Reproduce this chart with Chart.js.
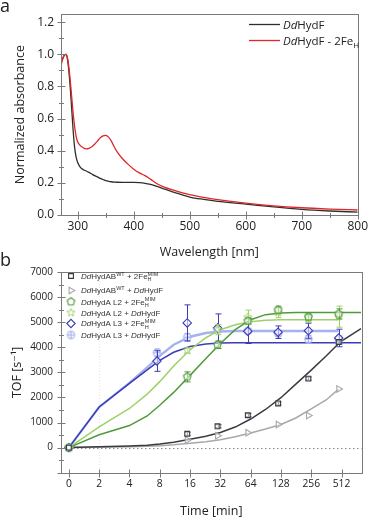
<!DOCTYPE html>
<html><head><meta charset="utf-8">
<script src="https://cdn.jsdelivr.net/npm/chart.js@4/dist/chart.umd.min.js"></script>
<style>
html,body{margin:0;padding:0;background:#fff;width:372px;height:520px;overflow:hidden}
#ca{position:absolute;left:0;top:0}
#cb{position:absolute;left:0;top:250px}
</style></head><body>
<canvas id="ca" width="372" height="262"></canvas>
<canvas id="cb" width="372" height="270"></canvas>
<script>
// ---------- Panel a data ----------
const wavelength = [270,273,276,279,282,285,288,291,294,297,300,305,310,315,320,325,330,335,340,345,350,355,360,365,370,380,390,400,410,420,430,440,450,475,500,525,550,600,650,700,750,800];
const absHydF    = [0.945,0.975,0.995,1.0,0.96,0.86,0.72,0.56,0.43,0.36,0.325,0.295,0.282,0.274,0.265,0.255,0.245,0.237,0.228,0.221,0.214,0.21,0.207,0.205,0.204,0.203,0.203,0.203,0.201,0.197,0.19,0.18,0.168,0.138,0.112,0.097,0.085,0.068,0.05,0.035,0.025,0.018];
const absHydF2Fe = [0.93,0.97,0.995,1.0,0.97,0.89,0.78,0.66,0.56,0.49,0.455,0.43,0.418,0.412,0.415,0.425,0.44,0.46,0.48,0.493,0.496,0.485,0.46,0.425,0.395,0.35,0.315,0.285,0.262,0.245,0.222,0.198,0.18,0.15,0.127,0.11,0.096,0.074,0.057,0.045,0.037,0.031];
const wavelengthTicks = [300,400,500,600,700,800];
const absTicks = [0,0.2,0.4,0.6,0.8,1.0,1.2];

// ---------- Panel b data ----------
const markerTime = [0,7.5,15,30,60,120,240,480];
const tofAbWtMim  = [0,null,550,850,1290,1760,2750,4210];
const errAbWtMim  = [0,null,60,60,60,60,60,80];
const tofAbWtHydF = [0,null,300,470,590,920,1280,2340];
const tofL2Mim    = [0,null,2820,4100,5050,5490,5210,5330];
const errL2Mim    = [0,null,200,150,120,150,120,200];
const tofL2HydF   = [0,null,3870,4700,5200,5380,5150,5220];
const errL2HydF   = [0,null,100,200,280,200,150,420];
const tofL3Mim    = [0,3450,4970,4770,4640,4600,4660,4370];
const errL3Mim    = [0,410,720,560,490,250,300,350];
const tofL3HydF   = [0,3780,4400,4700,4650,4550,4320,4300];
const errL3HydF   = [0,150,150,100,100,100,150,150];

const fitTime      = [0,2,4,6,8,11,16,23,32,45,64,90,128,180,256,360,480,512,800];
const fitAbWtMim   = [0,30,65,95,140,210,330,450,600,820,1140,1520,1990,2530,3090,3650,4150,4250,4740];
const fitAbWtHydF  = [0,15,35,50,75,110,170,230,310,430,580,740,920,1180,1540,1900,2330,null,null];
const fitL2Mim     = [0,510,880,1260,1690,2200,2880,3550,4150,4700,5100,5300,5370,5390,5390,5390,5390,5390,5390];
const fitL2HydF    = [0,830,1560,2130,2630,3250,3900,4380,4700,4900,5020,5080,5100,5100,5100,5100,5100,null,null];
const fitL3Mim     = [0,1620,2560,3100,3480,3800,4030,4130,4170,4180,4180,4180,4180,4180,4180,4180,4180,4180,4180];
const fitL3HydF    = [0,1620,2580,3200,3660,4100,4420,4570,4630,4650,4650,4650,4650,4650,4650,4650,4650,null,null];
const timeTickLabels = ['0','2','4','8','16','32','64','128','256','512'];
const tofTicks = [0,1000,2000,3000,4000,5000,6000,7000];

// ---------- helpers ----------
const FONT = "'Open Sans', 'DejaVu Sans', sans-serif";
const LFONT = "'Liberation Sans', Arial, sans-serif";
const TXT = '#222';
const FRAME = '#7a7a7a';
const C = {black:'#3a3a42', gray:'#a8a8a8', dgreen:'#4f9a3a', lgreen:'#9fd068', dblue:'#3c3cb8', lblue:'#a2aeee', red:'#e02626', aBlack:'#2e2e2e'};
const tpos = t => t > 0 ? Math.log2(t) : 0;

function rich(ctx, x, y, segs, size, small, family) {
  let cx = x;
  for (const s of segs) {
    if (s.t !== undefined) {
      ctx.font = (s.it ? 'italic ' : '') + size + 'px ' + family;
      ctx.fillText(s.t, cx, y);
      cx += ctx.measureText(s.t).width;
    } else {
      ctx.font = small + 'px ' + family;
      let w = 0;
      if (s.sup) { ctx.fillText(s.sup, cx, y - size * 0.42); w = Math.max(w, ctx.measureText(s.sup).width); }
      if (s.sub) { ctx.fillText(s.sub, cx, y + size * 0.3); w = Math.max(w, ctx.measureText(s.sub).width); }
      cx += w;
    }
  }
}

function makeFrame(cfg) {
  return {
    id: 'frame' + cfg.name,
    beforeDatasetsDraw(chart) {
      const {ctx, chartArea: a, scales: {x, y}} = chart;
      ctx.save();
      if (cfg.zeroLine) {
        const p = Math.round(y.getPixelForValue(0)) + 0.5;
        ctx.strokeStyle = '#8a8a8a'; ctx.lineWidth = 1; ctx.setLineDash([1.5, 2.5]);
        ctx.beginPath(); ctx.moveTo(a.left, p); ctx.lineTo(a.right, p); ctx.stroke();
      }
      if (cfg.vLine !== undefined) {
        const p = Math.round(x.getPixelForValue(cfg.vLine)) + 0.5;
        ctx.strokeStyle = '#e4e4ee'; ctx.lineWidth = 1; ctx.setLineDash([1, 2]);
        ctx.beginPath(); ctx.moveTo(p, a.top); ctx.lineTo(p, a.bottom); ctx.stroke();
      }
      ctx.restore();
    },
    afterDraw(chart) {
      const {ctx, chartArea: a, scales: {x, y}} = chart;
      ctx.save();
      ctx.strokeStyle = FRAME; ctx.lineWidth = 1;
      const L = Math.round(a.left) + 0.5, R = Math.round(a.right) + 0.5, T = Math.round(a.top) + 0.5, B = Math.round(a.bottom) + 0.5;
      ctx.strokeRect(L, T, R - L, B - T);
      const seg = (x1, y1, x2, y2) => { ctx.beginPath(); ctx.moveTo(x1, y1); ctx.lineTo(x2, y2); ctx.stroke(); };
      cfg.xMajor.forEach(v => { const p = Math.round(x.getPixelForValue(v)) + 0.5; seg(p, B - 4, p, B + 4); });
      cfg.xMinor.forEach(v => { const p = Math.round(x.getPixelForValue(v)) + 0.5; seg(p, B - 2.5, p, B + 2.5); });
      cfg.yMajor.forEach(v => { const p = Math.round(y.getPixelForValue(v)) + 0.5; seg(L - 4, p, L + 4, p); });
      cfg.yMinor.forEach(v => { const p = Math.round(y.getPixelForValue(v)) + 0.5; seg(L - 2.5, p, L + 2.5, p); });
      cfg.extra(ctx, chart);
      ctx.restore();
    }
  };
}

// ---------- Panel a ----------
const minorW = [350,450,550,650,750];
const minorA = [0.1,0.3,0.5,0.7,0.9,1.1];
new Chart(document.getElementById('ca'), {
  type: 'line',
  data: { datasets: [
    { label: 'DdHydF - 2FeH', data: wavelength.map((w, i) => ({x: w, y: absHydF2Fe[i]})), borderColor: C.red, borderWidth: 1.3, pointRadius: 0, cubicInterpolationMode: 'monotone', order: 1 },
    { label: 'DdHydF', data: wavelength.map((w, i) => ({x: w, y: absHydF[i]})), borderColor: C.aBlack, borderWidth: 1.3, pointRadius: 0, cubicInterpolationMode: 'monotone', order: 2 }
  ]},
  options: {
    responsive: false, animation: false, devicePixelRatio: 1,
    layout: { padding: { left: 0, right: 11, top: 14, bottom: 0 } },
    plugins: { legend: { display: false }, tooltip: { enabled: false } },
    scales: {
      x: { type: 'linear', min: 270, max: 800,
        afterBuildTicks: s => { s.ticks = wavelengthTicks.map(v => ({value: v})); },
        afterFit: s => { s.height = 47; },
        grid: { display: false, drawTicks: false }, border: { display: false },
        ticks: { padding: 4, color: TXT, font: { family: FONT, size: 12 }, maxRotation: 0, autoSkip: false },
        title: { display: true, text: 'Wavelength [nm]', color: TXT, font: { family: FONT, size: 12.5 }, padding: { top: 0, bottom: 2 } } },
      y: { type: 'linear', min: 0, max: 1.25,
        afterBuildTicks: s => { s.ticks = absTicks.map(v => ({value: v})); },
        afterFit: s => { s.width = 61; },
        grid: { display: false, drawTicks: false }, border: { display: false },
        ticks: { padding: 7, color: TXT, font: { family: FONT, size: 12 }, callback: v => v.toFixed(1) },
        title: { display: true, text: 'Normalized absorbance', color: TXT, font: { family: FONT, size: 12.5 }, padding: { top: 12.5, bottom: 0 } } }
    }
  },
  plugins: [makeFrame({ name: 'a', xMajor: wavelengthTicks, xMinor: minorW, yMajor: absTicks, yMinor: minorA,
    extra(ctx) {
      ctx.fillStyle = TXT; ctx.textBaseline = 'alphabetic'; ctx.textAlign = 'left';
      ctx.font = '18px ' + FONT; ctx.fillText('a', 0, 12);
      ctx.lineWidth = 1.3;
      ctx.strokeStyle = C.aBlack; ctx.beginPath(); ctx.moveTo(249, 24.5); ctx.lineTo(280, 24.5); ctx.stroke();
      ctx.strokeStyle = C.red; ctx.beginPath(); ctx.moveTo(249, 40.5); ctx.lineTo(280, 40.5); ctx.stroke();
      ctx.fillStyle = TXT;
      rich(ctx, 283, 28.8, [{t: 'Dd', it: true}, {t: 'HydF'}], 11.5, 8, FONT);
      rich(ctx, 283, 44.8, [{t: 'Dd', it: true}, {t: 'HydF - 2Fe'}, {sub: 'H'}], 11.5, 8, FONT);
    } })]
});

// ---------- Panel b ----------
function mkPt(draw, size) {
  const c = document.createElement('canvas'); c.width = size; c.height = size;
  const g = c.getContext('2d'); g.translate(size / 2, size / 2); draw(g); return c;
}
const FILL = 'rgba(255,255,255,0.55)';
const pentagon = mkPt(g => {
  g.strokeStyle = C.dgreen; g.lineWidth = 1.1; g.fillStyle = FILL; g.beginPath();
  for (let k = 0; k < 5; k++) { const an = -Math.PI / 2 + k * 2 * Math.PI / 5; g.lineTo(4 * Math.cos(an), 4 * Math.sin(an)); }
  g.closePath(); g.fill(); g.stroke();
}, 11);
const star = mkPt(g => {
  g.strokeStyle = C.lgreen; g.lineWidth = 1; g.fillStyle = FILL; g.beginPath();
  for (let k = 0; k < 10; k++) { const r = k % 2 ? 1.9 : 4.3; const an = -Math.PI / 2 + k * Math.PI / 5; g.lineTo(r * Math.cos(an), r * Math.sin(an)); }
  g.closePath(); g.fill(); g.stroke();
}, 11);
const circPlus = mkPt(g => {
  g.strokeStyle = C.lblue; g.lineWidth = 1.1; g.fillStyle = FILL;
  g.beginPath(); g.arc(0, 0, 3.6, 0, Math.PI * 2); g.fill(); g.stroke();
  g.beginPath(); g.moveTo(-3.6, 0); g.lineTo(3.6, 0); g.moveTo(0, -3.6); g.lineTo(0, 3.6); g.stroke();
}, 11);

function pts(arr) { return markerTime.map((t, i) => ({x: tpos(t), y: arr[i]})).filter(p => p.y !== null); }
function errs(arr, err) { return markerTime.map((t, i) => err[i]).filter((e, i) => arr[i] !== null); }
function fit(arr) { return fitTime.map((t, i) => ({x: tpos(t), y: arr[i]})); }

const series = [
  { label: 'AB WT + 2Fe MIM', vals: tofAbWtMim, err: errAbWtMim, fitv: fitAbWtMim, color: C.black, style: 'rect', radius: 3.4, rot: 0,
    segs: [{t: 'Dd', it: true}, {t: 'HydAB'}, {sup: 'WT'}, {t: ' + 2Fe'}, {sup: 'MIM', sub: 'H'}] },
  { label: 'AB WT + HydF', vals: tofAbWtHydF, err: null, fitv: fitAbWtHydF, color: C.gray, style: 'triangle', radius: 3.8, rot: 90,
    segs: [{t: 'Dd', it: true}, {t: 'HydAB'}, {sup: 'WT'}, {t: ' + '}, {t: 'Dd', it: true}, {t: 'HydF'}] },
  { label: 'L2 + 2Fe MIM', vals: tofL2Mim, err: errL2Mim, fitv: fitL2Mim, color: C.dgreen, style: pentagon, radius: 4, rot: 0,
    segs: [{t: 'Dd', it: true}, {t: 'HydA L2 + 2Fe'}, {sup: 'MIM', sub: 'H'}] },
  { label: 'L2 + HydF', vals: tofL2HydF, err: errL2HydF, fitv: fitL2HydF, color: C.lgreen, style: star, radius: 4, rot: 0,
    segs: [{t: 'Dd', it: true}, {t: 'HydA L2 + '}, {t: 'Dd', it: true}, {t: 'HydF'}] },
  { label: 'L3 + 2Fe MIM', vals: tofL3Mim, err: errL3Mim, fitv: fitL3Mim, color: C.dblue, style: 'rectRot', radius: 4.2, rot: 0,
    segs: [{t: 'Dd', it: true}, {t: 'HydA L3 + 2Fe'}, {sup: 'MIM', sub: 'H'}] },
  { label: 'L3 + HydF', vals: tofL3HydF, err: errL3HydF, fitv: fitL3HydF, color: C.lblue, style: circPlus, radius: 4, rot: 0,
    segs: [{t: 'Dd', it: true}, {t: 'HydA L3 + '}, {t: 'Dd', it: true}, {t: 'HydF'}] }
];

const dsB = [];
series.forEach((s, k) => {
  dsB.push({ type: 'scatter', label: s.label, data: pts(s.vals), errors: s.err ? errs(s.vals, s.err) : null, errColor: s.color,
    pointStyle: s.style, pointRadius: s.radius, pointRotation: s.rot, pointBorderColor: s.color, pointBackgroundColor: FILL,
    pointBorderWidth: 1.1, showLine: false, order: 1 });
});
series.forEach((s, k) => {
  const light = (s.color === C.lblue);
  dsB.push({ type: 'line', label: s.label + ' fit', data: fit(s.fitv), borderColor: light ? 'rgba(150,165,235,0.85)' : s.color,
    borderWidth: light ? 2.4 : 1.5, pointRadius: 0, tension: 0, spanGaps: false, order: 2 });
});

const errPlugin = {
  id: 'errbars',
  beforeDatasetDraw(chart, args) {
    const ds = chart.data.datasets[args.index];
    if (!ds.errors) return;
    const {ctx, scales: {x, y}} = chart;
    ctx.save(); ctx.strokeStyle = ds.errColor; ctx.lineWidth = 1;
    ds.data.forEach((p, i) => {
      const e = ds.errors[i]; if (!e) return;
      const px = Math.round(x.getPixelForValue(p.x)) + 0.5;
      const y1 = y.getPixelForValue(p.y + e), y2 = y.getPixelForValue(p.y - e);
      ctx.beginPath();
      ctx.moveTo(px, y1); ctx.lineTo(px, y2);
      ctx.moveTo(px - 3, y1); ctx.lineTo(px + 3, y1);
      ctx.moveTo(px - 3, y2); ctx.lineTo(px + 3, y2);
      ctx.stroke();
    });
    ctx.restore();
  }
};

const legendRowsB = [26, 40.5, 51.7, 62.7, 73.5, 85];
const tofMinor = [-500,500,1500,2500,3500,4500,5500,6500];
const timeTickPos = timeTickLabels.map(l => tpos(Number(l)));

new Chart(document.getElementById('cb'), {
  type: 'scatter',
  data: { datasets: dsB },
  options: {
    responsive: false, animation: false, devicePixelRatio: 1,
    layout: { padding: { left: 0, right: 10.5, top: 22, bottom: 0 } },
    plugins: { legend: { display: false }, tooltip: { enabled: false } },
    scales: {
      x: { type: 'linear', min: -0.26, max: 9.66,
        afterBuildTicks: s => { s.ticks = timeTickPos.map(v => ({value: v})); },
        afterFit: s => { s.height = 47.3; },
        grid: { display: false, drawTicks: false }, border: { display: false },
        ticks: { padding: 5, color: TXT, font: { family: FONT, size: 10.3 }, maxRotation: 0, autoSkip: false,
          callback: (v, i) => timeTickLabels[i] },
        title: { display: true, text: 'Time [min]', color: TXT, font: { family: FONT, size: 12.5 }, padding: { top: 0, bottom: 1.5 } } },
      y: { type: 'linear', min: -1000, max: 7000,
        afterBuildTicks: s => { s.ticks = tofTicks.map(v => ({value: v})); },
        afterFit: s => { s.width = 61; },
        grid: { display: false, drawTicks: false }, border: { display: false },
        ticks: { padding: 8, color: TXT, font: { family: FONT, size: 10 }, callback: v => String(v) },
        title: { display: true, text: 'TOF [s\u207B\u00B9]', color: TXT, font: { family: FONT, size: 12.5 }, padding: { top: 9.5, bottom: 0 } } }
    }
  },
  plugins: [errPlugin, makeFrame({ name: 'b', zeroLine: true, vLine: 1, xMajor: timeTickPos, xMinor: [], yMajor: [-1000].concat(tofTicks), yMinor: tofMinor,
    extra(ctx) {
      ctx.fillStyle = TXT; ctx.textBaseline = 'alphabetic'; ctx.textAlign = 'left';
      ctx.font = '18px ' + FONT; ctx.fillText('b', 0, 15.5);
      series.forEach((s, k) => {
        const yy = legendRowsB[k];
        ctx.strokeStyle = s.color; ctx.fillStyle = FILL; ctx.lineWidth = 1.1;
        Chart.helpers.drawPoint(ctx, { pointStyle: s.style, radius: s.radius, rotation: s.rot, borderWidth: 1.1 }, 71, yy);
        ctx.fillStyle = '#333';
        rich(ctx, 81, yy + 2.9, s.segs, 8, 5.5, LFONT);
      });
    } })]
});
</script>
</body></html>
